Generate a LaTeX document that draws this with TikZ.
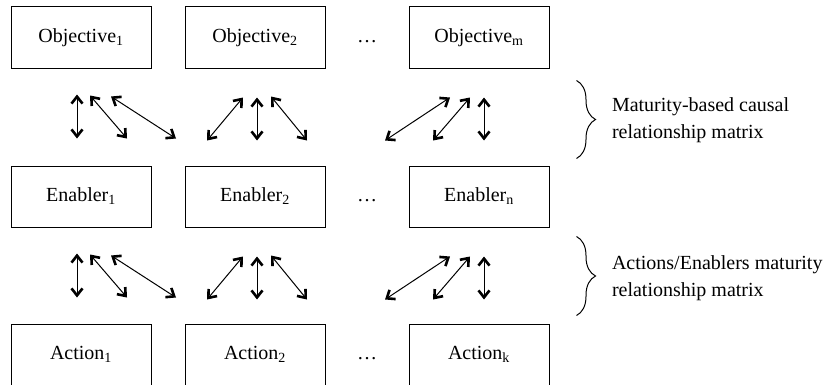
\documentclass[tikz,border=0pt]{standalone}
\usepackage{fontspec}
\setmainfont{Liberation Serif}
\usetikzlibrary{arrows.meta,positioning,decorations.pathreplacing}

\begin{document}
\begin{tikzpicture}[x=1pt,y=1pt,line width=1pt,
                    >={Straight Barb[length=7pt,width=11pt,line width=1.6pt 1]},
                    box node/.style={rectangle,draw,minimum width=140pt,minimum height=61pt,inner sep=0pt,font=\fontsize{20}{24}\selectfont},
                    dots node/.style={font=\fontsize{20}{24}\selectfont},
                    both way/.style={<->},
                    matrix brace/.style={-,decorate,decoration={brace,amplitude=19pt}},
                    matrix label/.style={anchor=west,align=left,inner sep=0pt,font=\fontsize{20}{27}\selectfont}]
  \useasboundingbox (0,0) rectangle (840,384);

  %Objectives%
  \node[box node] (o1) at (81,346.5) {Objective\textsubscript{1}};
  \node[box node] (o2) [right of=o1,node distance=174pt] {Objective\textsubscript{2}};
  \node[dots node] (od) [right of=o2,node distance=112pt] {\strut\ldots};
  \node[box node] (o3) [right of=od,node distance=112pt] {Objective\textsubscript{m}};
  %Enablers%
  \node[box node] (e1) [below of=o1,node distance=159pt] {Enabler\textsubscript{1}};
  \node[box node] (e2) [right of=e1,node distance=174pt] {Enabler\textsubscript{2}};
  \node[dots node] (ed) [right of=e2,node distance=112pt] {\strut\ldots};
  \node[box node] (e3) [right of=ed,node distance=112pt] {Enabler\textsubscript{n}};
  %Actions%
  \node[box node] (a1) [below of=e1,node distance=158pt] {Action\textsubscript{1}};
  \node[box node] (a2) [right of=a1,node distance=174pt] {Action\textsubscript{2}};
  \node[dots node] (ad) [right of=a2,node distance=112pt] {\strut\ldots};
  \node[box node] (a3) [right of=ad,node distance=112pt] {Action\textsubscript{k}};

  \foreach \u in {o,e} {
    \draw[both way] ([xshift=-4pt,yshift=-26pt]\u1.south) -- ([xshift=-4pt,yshift=-70pt]\u1.south);
    \draw[both way] ([xshift=9pt,yshift=-27pt]\u1.south) -- ([xshift=46pt,yshift=-70pt]\u1.south);
    \draw[both way] ([xshift=30pt,yshift=-28pt]\u1.south) -- ([xshift=95pt,yshift=-70pt]\u1.south);
    \draw[both way] ([xshift=-12pt,yshift=-29pt]\u2.south) -- ([xshift=-48pt,yshift=-72pt]\u2.south);
    \draw[both way] ([xshift=2pt,yshift=-29pt]\u2.south) -- ([xshift=2pt,yshift=-72pt]\u2.south);
    \draw[both way] ([xshift=16pt,yshift=-28pt]\u2.south) -- ([xshift=52pt,yshift=-72pt]\u2.south);
    \draw[both way] ([xshift=-29pt,yshift=-29pt]\u3.south) -- ([xshift=-94pt,yshift=-72pt]\u3.south);
    \draw[both way] ([xshift=-9pt,yshift=-29pt]\u3.south) -- ([xshift=-46pt,yshift=-72pt]\u3.south);
    \draw[both way] ([xshift=5pt,yshift=-29pt]\u3.south) -- ([xshift=5pt,yshift=-72pt]\u3.south);
  }

  \draw[matrix brace] ([xshift=27pt,yshift=-12pt]o3.south east) -- ([xshift=27pt,yshift=7pt]e3.north east)
    node[matrix label,midway,xshift=35pt,yshift=-1pt] (l1) {Maturity-based causal\\relationship matrix};
  \draw[matrix brace] ([xshift=27pt,yshift=-9pt]e3.south east) -- ([xshift=27pt,yshift=8pt]a3.north east)
    node[matrix label,midway,xshift=35pt,yshift=-2pt] (l2) {Actions/Enablers maturity\\relationship matrix};
\end{tikzpicture}
\end{document}
